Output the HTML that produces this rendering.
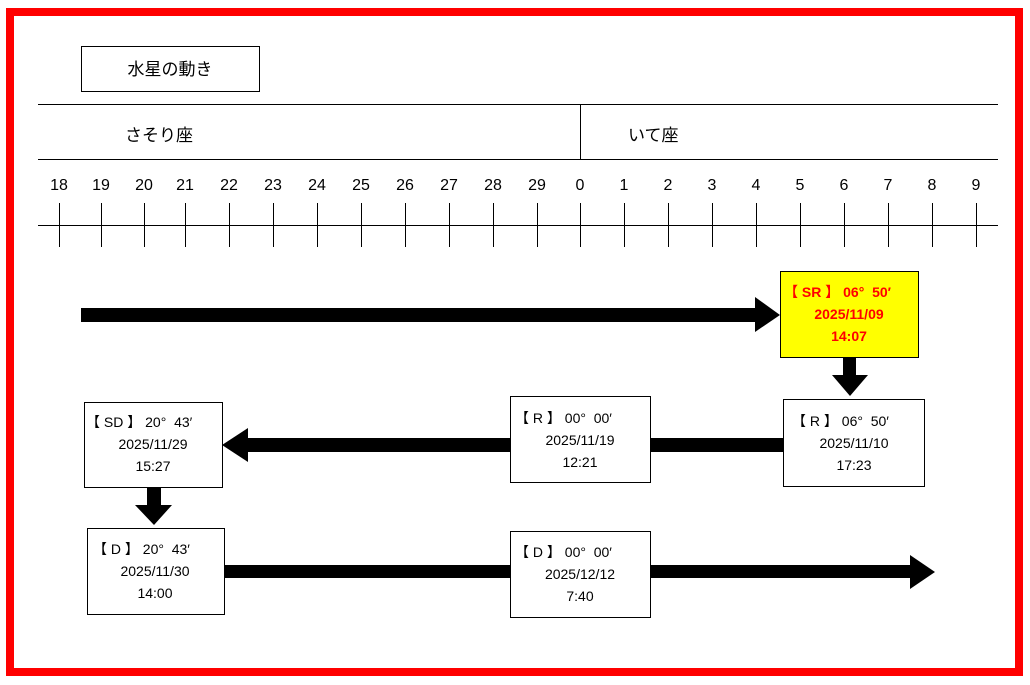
<!DOCTYPE html>
<html><head><meta charset="utf-8"><style>
html,body{margin:0;padding:0;background:#fff;}
svg{display:block;}
text{font-family:"Liberation Sans","Noto Sans CJK JP",sans-serif;}
</style></head><body>
<svg width="1030" height="685" viewBox="0 0 1030 685" xmlns="http://www.w3.org/2000/svg">
<rect x="0" y="0" width="1030" height="685" fill="#fff"/>
<rect x="10" y="12" width="1009" height="660" fill="none" stroke="#ff0000" stroke-width="8"/>
<rect x="81.5" y="46.5" width="178" height="45" fill="#fff" stroke="#000" stroke-width="1"/>
<text x="170" y="75" font-size="17" text-anchor="middle">水星の動き</text>
<line x1="38" y1="104.5" x2="998" y2="104.5" stroke="#000"/>
<line x1="38" y1="159.5" x2="998" y2="159.5" stroke="#000"/>
<line x1="580.5" y1="104" x2="580.5" y2="159" stroke="#000"/>
<text x="125" y="141" font-size="17">さそり座</text>
<text x="628" y="141" font-size="17">いて座</text>
<line x1="38" y1="225.5" x2="998" y2="225.5" stroke="#000"/>
<g stroke="#000" stroke-width="1">
<line x1="59.5" y1="203" x2="59.5" y2="247"/><line x1="101.5" y1="203" x2="101.5" y2="247"/>
<line x1="144.5" y1="203" x2="144.5" y2="247"/><line x1="185.5" y1="203" x2="185.5" y2="247"/>
<line x1="229.5" y1="203" x2="229.5" y2="247"/><line x1="273.5" y1="203" x2="273.5" y2="247"/>
<line x1="317.5" y1="203" x2="317.5" y2="247"/><line x1="361.5" y1="203" x2="361.5" y2="247"/>
<line x1="405.5" y1="203" x2="405.5" y2="247"/><line x1="449.5" y1="203" x2="449.5" y2="247"/>
<line x1="493.5" y1="203" x2="493.5" y2="247"/><line x1="537.5" y1="203" x2="537.5" y2="247"/>
<line x1="580.5" y1="203" x2="580.5" y2="247"/><line x1="624.5" y1="203" x2="624.5" y2="247"/>
<line x1="668.5" y1="203" x2="668.5" y2="247"/><line x1="712.5" y1="203" x2="712.5" y2="247"/>
<line x1="756.5" y1="203" x2="756.5" y2="247"/><line x1="800.5" y1="203" x2="800.5" y2="247"/>
<line x1="844.5" y1="203" x2="844.5" y2="247"/><line x1="888.5" y1="203" x2="888.5" y2="247"/>
<line x1="932.5" y1="203" x2="932.5" y2="247"/><line x1="976.5" y1="203" x2="976.5" y2="247"/>
</g>
<g font-size="16" text-anchor="middle">
<text x="59" y="190">18</text><text x="101" y="190">19</text><text x="144" y="190">20</text>
<text x="185" y="190">21</text><text x="229" y="190">22</text><text x="273" y="190">23</text>
<text x="317" y="190">24</text><text x="361" y="190">25</text><text x="405" y="190">26</text>
<text x="449" y="190">27</text><text x="493" y="190">28</text><text x="537" y="190">29</text>
<text x="580" y="190">0</text><text x="624" y="190">1</text><text x="668" y="190">2</text>
<text x="712" y="190">3</text><text x="756" y="190">4</text><text x="800" y="190">5</text>
<text x="844" y="190">6</text><text x="888" y="190">7</text><text x="932" y="190">8</text>
<text x="976" y="190">9</text>
</g>
<polygon points="81,308 755,308 755,297 780,315 755,332 755,322 81,322" fill="#000"/>
<polygon points="843,357 856,357 856,375 868,375 850,396 832,375 843,375" fill="#000"/>
<polygon points="783,438 248,438 248,428 222,445 248,462 248,452 783,452" fill="#000"/>
<polygon points="147,487 161,487 161,505 172,505 154,525 135,505 147,505" fill="#000"/>
<polygon points="224,565 910,565 910,555 935,572 910,589 910,578 224,578" fill="#000"/>
<rect x="780.5" y="271.5" width="138" height="86" fill="#ffff00" stroke="#000"/>
<g fill="#ff0000" font-size="14" font-weight="bold">
<text x="784" y="297" xml:space="preserve">【 SR 】 06°  50′</text>
<text x="849" y="319" text-anchor="middle">2025/11/09</text>
<text x="849" y="341" text-anchor="middle">14:07</text>
</g>
<g font-size="14">
<rect x="783.5" y="399.5" width="141" height="87" fill="#fff" stroke="#000"/>
<text x="792" y="426" xml:space="preserve">【 R 】 06°  50′</text>
<text x="854" y="448" text-anchor="middle">2025/11/10</text>
<text x="854" y="470" text-anchor="middle">17:23</text>

<rect x="510.5" y="396.5" width="140" height="86" fill="#fff" stroke="#000"/>
<text x="515" y="423" xml:space="preserve">【 R 】 00°  00′</text>
<text x="580" y="445" text-anchor="middle">2025/11/19</text>
<text x="580" y="467" text-anchor="middle">12:21</text>

<rect x="84.5" y="402.5" width="138" height="85" fill="#fff" stroke="#000"/>
<text x="86" y="427" xml:space="preserve">【 SD 】 20°  43′</text>
<text x="153" y="449" text-anchor="middle">2025/11/29</text>
<text x="153" y="471" text-anchor="middle">15:27</text>

<rect x="87.5" y="528.5" width="137" height="86" fill="#fff" stroke="#000"/>
<text x="93" y="554" xml:space="preserve">【 D 】 20°  43′</text>
<text x="155" y="576" text-anchor="middle">2025/11/30</text>
<text x="155" y="598" text-anchor="middle">14:00</text>

<rect x="510.5" y="531.5" width="140" height="86" fill="#fff" stroke="#000"/>
<text x="515" y="557" xml:space="preserve">【 D 】 00°  00′</text>
<text x="580" y="579" text-anchor="middle">2025/12/12</text>
<text x="580" y="601" text-anchor="middle">7:40</text>
</g>
</svg>
</body></html>
